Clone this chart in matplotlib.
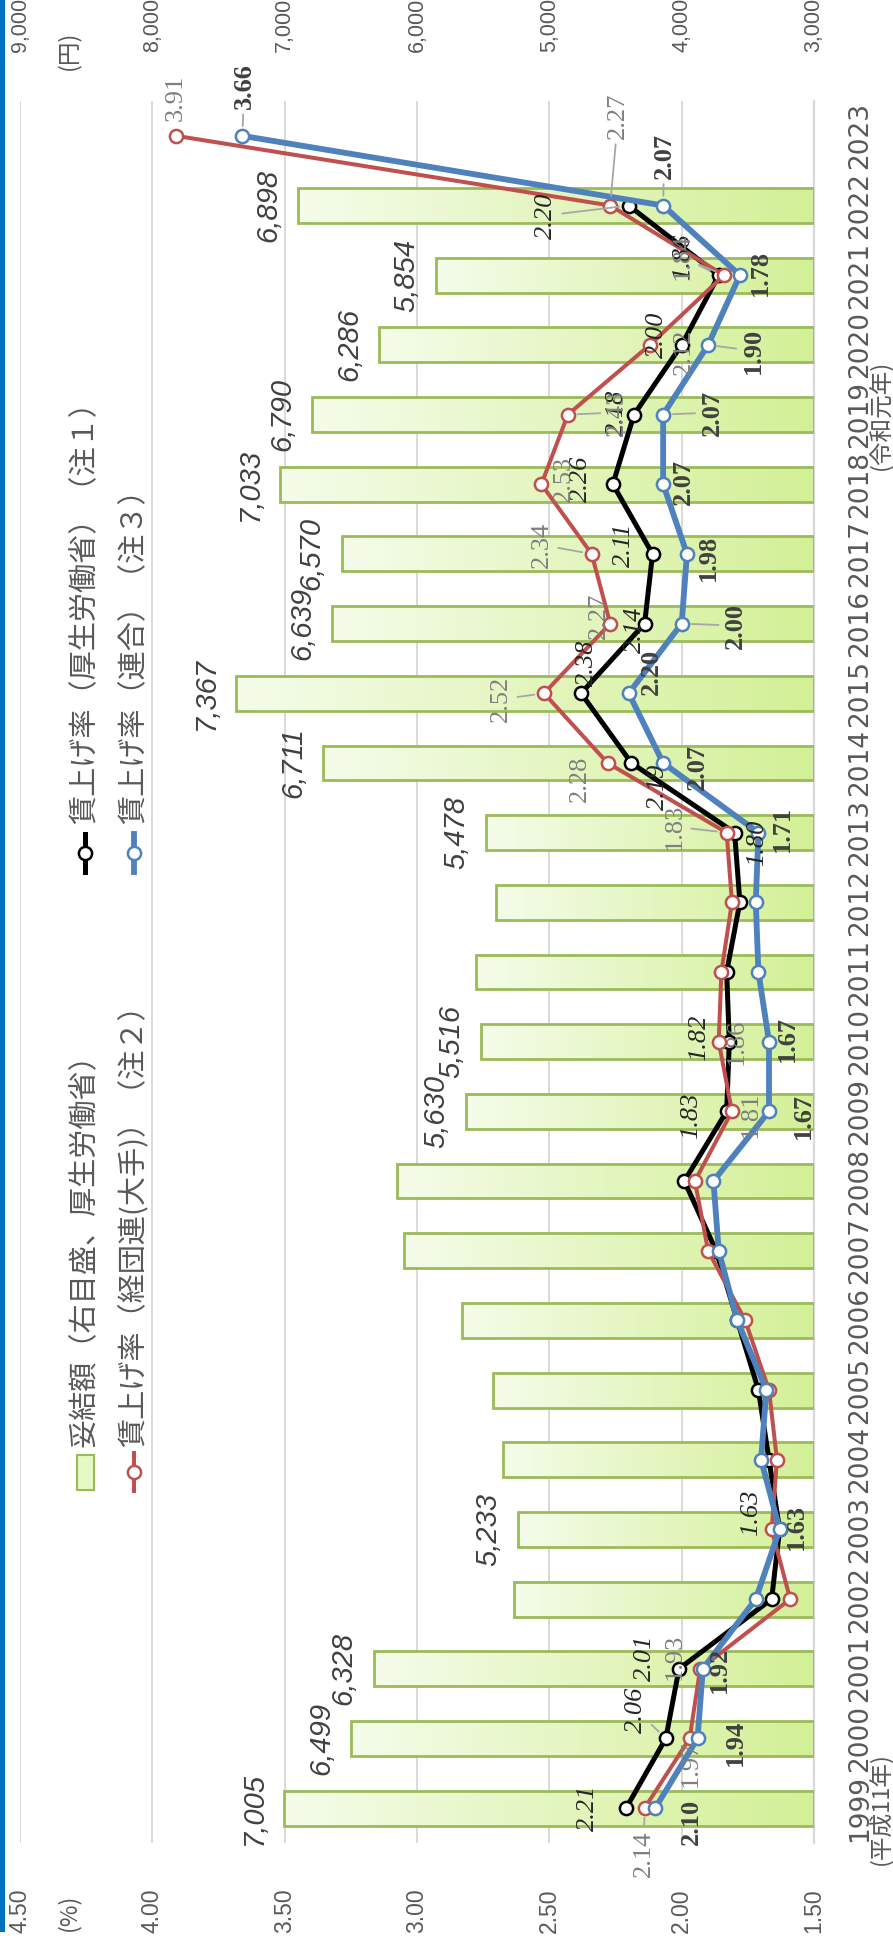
import numpy as np
import matplotlib.pyplot as plt
from matplotlib.colors import LinearSegmentedColormap
from matplotlib.patches import Rectangle
from matplotlib.lines import Line2D

W, H = 893, 1939

years = list(range(1999, 2024))
settlement = [7005, 6499, 6328, 5265, 5233, 5348, 5422, 5661, 6097, 6149, 5630, 5516,
              5555, 5400, 5478, 6711, 7367, 6639, 6570, 7033, 6790, 6286, 5854, 6898]
rate_mhlw = [2.21, 2.06, 2.01, 1.66, 1.63, 1.67, 1.71, 1.79, 1.87, 1.99, 1.83, 1.82,
             1.83, 1.78, 1.80, 2.19, 2.38, 2.14, 2.11, 2.26, 2.18, 2.00, 1.86, 2.20]
rate_keidanren = [2.14, 1.97, 1.93, 1.59, 1.66, 1.64, 1.67, 1.76, 1.90, 1.95, 1.81, 1.86,
                  1.85, 1.81, 1.83, 2.28, 2.52, 2.27, 2.34, 2.53, 2.43, 2.12, 1.84, 2.27, 3.91]
rate_rengo = [2.10, 1.94, 1.92, 1.72, 1.63, 1.70, 1.68, 1.79, 1.86, 1.88, 1.67, 1.67,
              1.71, 1.72, 1.71, 2.07, 2.20, 2.00, 1.98, 2.07, 2.07, 1.90, 1.78, 2.07, 3.66]

settlement_labeled = [1999, 2000, 2001, 2003, 2009, 2010, 2013, 2014, 2015, 2016,
                      2017, 2018, 2019, 2020, 2021, 2022]

legend_labels = ['妥結額（右目盛、厚生労働省）', '賃上げ率（厚生労働省）（注１）',
                 '賃上げ率（経団連(大手)）（注２）', '賃上げ率（連合）（注３）']

# label offsets in image pixels (dx right, dy down) per labeled year
off_mhlw = {1999: (-38, 0), 2000: (-30, -29), 2001: (-34, -11), 2003: (-29, -17),
            2009: (-36, 4), 2010: (-30, -4), 2013: (22, 10), 2014: (27, 24),
            2015: (6, -30), 2016: (-10, 6), 2017: (-29, -9), 2018: (-32, -5),
            2019: (-17, -2), 2020: (-25, -10), 2021: (-36, -18), 2022: (-83, 10)}
off_keidanren = {1999: (-1, 46), 2000: (1, 25), 2001: (-26, -12), 2009: (19, 3),
                 2010: (18, 0), 2013: (-52, -6), 2014: (-28, 16), 2015: (-43, 6),
                 2016: (-11, -8), 2017: (-50, -9), 2018: (22, -5), 2019: (49, -2),
                 2020: (34, 7), 2021: (-41, -18), 2022: (8, -90), 2023: (0, -38)}
off_rengo = {1999: (36, 14), 2000: (38, 4), 2001: (17, 1), 2003: (17, -2),
             2009: (34, 5), 2010: (18, -3), 2013: (24, -4), 2014: (34, 4),
             2015: (23, -21), 2016: (54, 2), 2017: (21, 4), 2018: (20, -2),
             2019: (49, -2), 2020: (45, 6), 2021: (20, -2), 2022: (1, -50), 2023: (2, -50)}

GRAY = '#595959'
SANS = 'Liberation Sans'
CJK = ['Noto Sans CJK JP', 'DejaVu Sans']


def px(x, y):
    return x / W, 1 - y / H


fig = plt.figure(figsize=(W / 100, H / 100), dpi=100)
ax = fig.add_axes([20 / W, 1 - 1843 / H, (814 - 20) / W, (1843 - 101) / H])
ax2 = ax.twiny()

# bars (yen, drawn on the primary axis)
bar_years = years[:len(settlement)]
bars = ax.barh(bar_years, [v - 3000 for v in settlement], left=3000, height=0.5,
               facecolor='none', edgecolor='#9bbb59', linewidth=2, zorder=3)
cmap = LinearSegmentedColormap.from_list('g', ['#d3f096', '#f5fcea'])
grad = np.linspace(0, 1, 256).reshape(1, -1)
for b in bars:
    x0, y0, w, h = b.get_x(), b.get_y(), b.get_width(), b.get_height()
    im = ax.imshow(grad, extent=[x0, x0 + w, y0, y0 + h], aspect='auto', cmap=cmap,
                   zorder=2, interpolation='bilinear')
    im.set_clip_path(b)

for yr, v in zip(bar_years, settlement):
    if yr in settlement_labeled:
        ax.annotate(f'{v:,}', (v, yr), xytext=(-30, 0), textcoords='offset pixels',
                    rotation=90, ha='center', va='center', fontsize=21, style='italic',
                    family=SANS, color='#404040')

ax.set_xlim(9000, 3000)
ax.set_ylim(1998.5, 2023.5)
ax.set_xticks(range(3000, 9001, 1000))
ax.set_xticklabels([f'{t:,}' for t in range(3000, 9001, 1000)], family=SANS)
ax.xaxis.tick_top()
ax.tick_params(axis='x', length=0, pad=35, labelsize=15.5, labelcolor=GRAY, labelrotation=90)
ax.grid(axis='x', color='#d9d9d9', linewidth=1.4, zorder=0)
ax.set_axisbelow(True)
ax.set_yticks(years)
ax.set_yticklabels([str(y) for y in years])
ax.yaxis.tick_right()
ax.tick_params(axis='y', length=0, pad=24, labelsize=19, labelcolor=GRAY)
for lbl in ax.get_yticklabels():
    lbl.set_rotation(90)
    lbl.set_va('center')
for s in ['top', 'left', 'bottom']:
    ax.spines[s].set_visible(False)
ax.spines['right'].set_color('#d9d9d9')
ax.spines['right'].set_linewidth(1.6)

# rate lines on the secondary axis
ax2.set_xlim(4.5, 1.5)
ax2.set_xticks(np.arange(1.5, 4.51, 0.5))
ax2.set_xticklabels([f'{t:.2f}' for t in np.arange(1.5, 4.51, 0.5)], family=SANS)
ax2.xaxis.tick_bottom()
ax2.tick_params(axis='x', length=0, pad=33, labelsize=16.5, labelcolor=GRAY, labelrotation=90)
for s in ax2.spines.values():
    s.set_visible(False)

series = [
    (rate_mhlw, '#000000', 3.6, off_mhlw, dict(style='italic', color='#262626')),
    (rate_keidanren, '#c0504d', 2.9, off_keidanren, dict(color='#7f7f7f')),
    (rate_rengo, '#4f81bd', 4.2, off_rengo, dict(weight='bold', color='#404040')),
]
for k, (vals, col, lw, offs, fkw) in enumerate(series):
    yrs = years[:len(vals)]
    ax2.plot(vals, yrs, color=col, lw=lw, marker='o', ms=9.5, mfc='white',
             mec=col, mew=1.8, zorder=5 + k)
    for yr, v in zip(yrs, vals):
        if yr not in offs:
            continue
        dx, dy = offs[yr]
        arrow = None
        if (dx * dx + dy * dy) ** 0.5 > 40:
            arrow = dict(arrowstyle='-', color='#a6a6a6', lw=1.3, shrinkA=2, shrinkB=7)
        ax2.annotate(f'{v:.2f}', (v, yr), xytext=(dx, -dy), textcoords='offset pixels',
                     rotation=90, ha='center', va='center', fontsize=19,
                     family='Liberation Serif', arrowprops=arrow, zorder=10, **fkw)

# era sub-labels under the year ticks
tr = ax.get_yaxis_transform()
ax.text(1.084, 1999, '(平成11年)', transform=tr, rotation=90, ha='center', va='center',
        fontsize=17, color=GRAY, family=CJK)
ax.text(1.084, 2019, '(令和元年)', transform=tr, rotation=90, ha='center', va='center',
        fontsize=17, color=GRAY, family=CJK)

# unit labels
fig.text(*px(68, 50), '(円)', rotation=90, ha='center', va='center', fontsize=17,
         color=GRAY, family=CJK)
fig.text(*px(68, 1912), '(%)', rotation=90, ha='center', va='center', fontsize=17,
         color=GRAY, family=CJK)

# legend drawn by hand (rotated)
fig.add_artist(Rectangle(px(77, 1490), 17 / W, 35 / H, transform=fig.transFigure,
                         facecolor='#e6f8c4', edgecolor='#9bbb59', lw=1.5))
for (xc, yc), col, lw in [((85, 853), '#000000', 3.6), ((134, 1472), '#c0504d', 2.9),
                          ((134, 853), '#4f81bd', 4.2)]:
    fig.add_artist(Line2D([xc / W, xc / W], [1 - (yc - 19) / H, 1 - (yc + 19) / H],
                          transform=fig.transFigure, color=col, lw=lw))
    fig.add_artist(Line2D([xc / W], [1 - yc / H], transform=fig.transFigure, marker='o',
                          ms=9.5, mfc='white', mec=col, mew=1.8))
for (xc, yb), txt in zip([(85, 1447), (85, 824), (134, 1447), (134, 824)], legend_labels):
    fig.text(*px(xc, yb), txt, rotation=90, ha='center', va='bottom', fontsize=21,
             color=GRAY, family=CJK)

# slide border
fig.add_artist(Rectangle((0, 1 - 1932 / H), 5 / W, 1932 / H, transform=fig.transFigure,
                         facecolor='#0070c0', edgecolor='none'))

fig.savefig('out.png', dpi=100)
